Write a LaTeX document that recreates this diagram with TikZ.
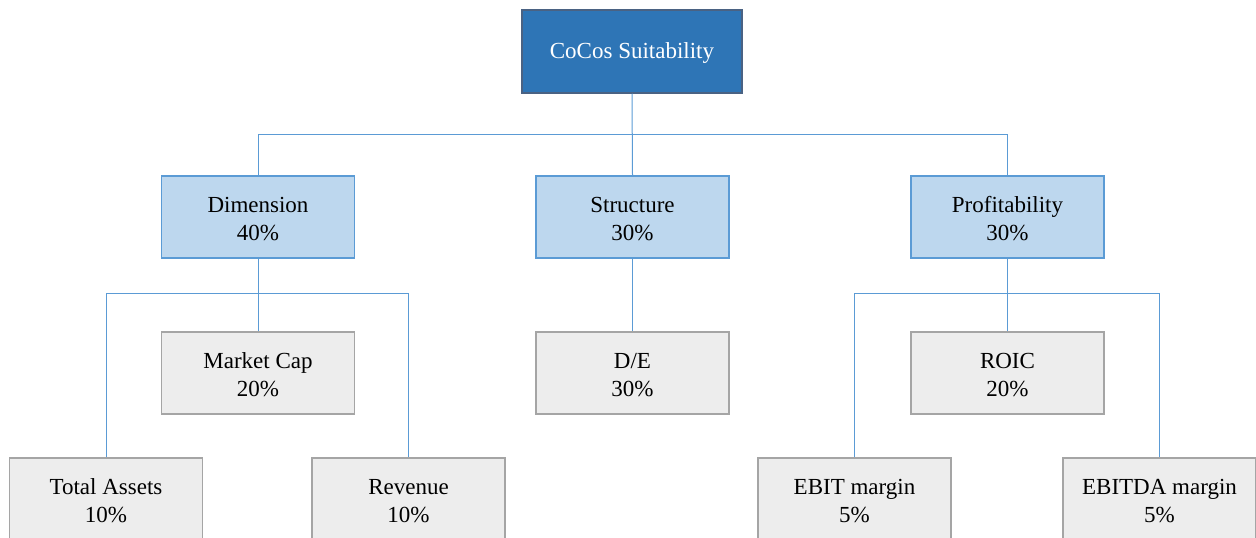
\documentclass[tikz,border=0pt]{standalone}
\usepackage{fontspec}
\setmainfont{Liberation Serif}
\definecolor{topfill}{HTML}{2E75B6}
\definecolor{topdraw}{HTML}{4A6283}
\definecolor{midfill}{HTML}{BDD7EE}
\definecolor{middraw}{HTML}{5B9BD5}
\definecolor{lowfill}{HTML}{EDEDED}
\definecolor{lowdraw}{HTML}{A5A5A5}
\definecolor{conncol}{HTML}{5B9BD5}
\newcommand\twolines[2]{\rule{0pt}{20.3pt}#1\\#2\rule[-2pt]{0pt}{0pt}}
\begin{document}
\begin{tikzpicture}[x=1pt,y=-1pt,
  box/.style={rectangle, inner sep=0pt, minimum width=193pt, minimum height=82pt, align=center,
    font=\fontsize{23}{28}\selectfont, line width=1.5pt},
  topbox/.style={box, minimum width=220pt, minimum height=83pt, fill=topfill, draw=topdraw, text=white},
  midbox/.style={box, fill=midfill, draw=middraw},
  lowbox/.style={box, fill=lowfill, draw=lowdraw},
  conn/.style={draw=conncol, line width=1pt}]
\useasboundingbox (0,0) rectangle (1256,538);
\coordinate (b1) at (632,134);
\coordinate (b2) at (258,293);
\coordinate (b3) at (1007,293);
\node[topbox] (top) at (632,51.5) {\rule{0pt}{19pt}CoCos Suitability\rule[-2pt]{0pt}{0pt}};
\node[midbox] (dim) at (258,217) {\twolines{Dimension}{40\%}};
\node[midbox] (str) at (632.5,217) {\twolines{Structure}{30\%}};
\node[midbox] (prof) at (1007.5,217) {\twolines{Profitability}{30\%}};
\node[lowbox] (mc) at (258,373) {\twolines{Market Cap}{20\%}};
\node[lowbox] (de) at (632.5,373) {\twolines{D/E}{30\%}};
\node[lowbox] (roic) at (1007.5,373) {\twolines{ROIC}{20\%}};
\node[lowbox] (ta) at (106,499) {\twolines{Total Assets}{10\%}};
\node[lowbox] (rev) at (408.5,499) {\twolines{Revenue}{10\%}};
\node[lowbox] (ebit) at (854.5,499) {\twolines{EBIT margin}{5\%}};
\node[lowbox] (ebitda) at (1159.5,499) {\twolines{EBITDA margin}{5\%}};
\draw[conn] (top.south) -- (str.north);
\draw[conn] (dim.north) -- (dim.north |- b1) -- (prof.north |- b1) -- (prof.north);
\draw[conn] (dim.south) -- (mc.north);
\draw[conn] (ta.north) -- (ta.north |- b2) -- (rev.north |- b2) -- (rev.north);
\draw[conn] (str.south) -- (de.north);
\draw[conn] (prof.south) -- (roic.north);
\draw[conn] (ebit.north) -- (ebit.north |- b3) -- (ebitda.north |- b3) -- (ebitda.north);
\end{tikzpicture}
\end{document}
